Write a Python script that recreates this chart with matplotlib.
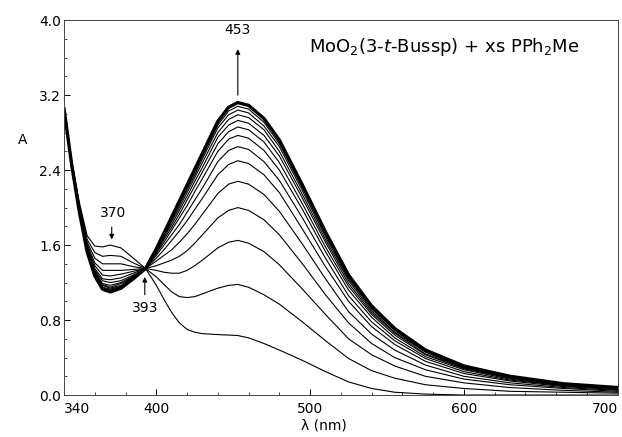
import matplotlib
matplotlib.use("Agg")
import matplotlib.pyplot as plt

# wavelengths (nm) at which the spectra were read
wavelength = [340, 345, 350, 355, 360, 365, 370, 377, 385, 393, 400, 405, 410, 415, 420, 425, 430,
              440, 447, 453, 460, 470, 480, 495, 510, 525, 540, 555, 575, 600, 630, 665, 700]

# absorbance of each scan, first (lowest at 453 nm) to last
spectra = [
    [3.05, 2.50, 2.05, 1.70, 1.59, 1.58, 1.60, 1.57, 1.46, 1.35, 1.17, 1.02, 0.88, 0.77, 0.70, 0.67, 0.655,
     0.645, 0.64, 0.635, 0.61, 0.55, 0.48, 0.37, 0.25, 0.14, 0.07, 0.03, 0.01, 0.00, 0.00, 0.00, 0.00],
    [3.05, 2.49, 2.03, 1.66, 1.52, 1.48, 1.49, 1.48, 1.41, 1.35, 1.26, 1.18, 1.10, 1.05, 1.04, 1.05, 1.08,
     1.14, 1.17, 1.18, 1.15, 1.07, 0.97, 0.78, 0.58, 0.39, 0.26, 0.18, 0.11, 0.07, 0.04, 0.03, 0.02],
    [3.05, 2.48, 2.01, 1.63, 1.46, 1.40, 1.40, 1.40, 1.37, 1.35, 1.33, 1.31, 1.30, 1.30, 1.33, 1.38, 1.44,
     1.57, 1.63, 1.65, 1.62, 1.53, 1.39, 1.13, 0.86, 0.60, 0.43, 0.31, 0.20, 0.13, 0.08, 0.05, 0.03],
    [3.05, 2.47, 2.00, 1.61, 1.41, 1.33, 1.33, 1.33, 1.34, 1.35, 1.38, 1.41, 1.44, 1.48, 1.54, 1.62, 1.71,
     1.89, 1.97, 2.00, 1.97, 1.87, 1.71, 1.40, 1.07, 0.77, 0.55, 0.40, 0.27, 0.17, 0.11, 0.07, 0.04],
    [3.05, 2.47, 1.98, 1.59, 1.38, 1.28, 1.27, 1.29, 1.32, 1.35, 1.43, 1.49, 1.55, 1.63, 1.72, 1.82, 1.93,
     2.15, 2.25, 2.28, 2.25, 2.14, 1.96, 1.61, 1.24, 0.89, 0.65, 0.48, 0.32, 0.20, 0.13, 0.08, 0.05],
    [3.05, 2.46, 1.98, 1.57, 1.35, 1.24, 1.23, 1.25, 1.30, 1.35, 1.46, 1.55, 1.65, 1.75, 1.86, 1.98, 2.10,
     2.35, 2.46, 2.50, 2.47, 2.35, 2.16, 1.77, 1.37, 1.00, 0.73, 0.54, 0.36, 0.23, 0.15, 0.09, 0.06],
    [3.05, 2.46, 1.97, 1.56, 1.33, 1.22, 1.20, 1.22, 1.28, 1.35, 1.49, 1.60, 1.71, 1.82, 1.95, 2.08, 2.21,
     2.49, 2.61, 2.65, 2.62, 2.49, 2.29, 1.89, 1.46, 1.06, 0.78, 0.58, 0.39, 0.25, 0.16, 0.10, 0.06],
    [3.05, 2.46, 1.96, 1.55, 1.32, 1.19, 1.17, 1.20, 1.27, 1.35, 1.51, 1.63, 1.76, 1.89, 2.02, 2.17, 2.31,
     2.60, 2.73, 2.77, 2.74, 2.61, 2.40, 1.98, 1.53, 1.12, 0.83, 0.61, 0.41, 0.27, 0.17, 0.10, 0.07],
    [3.05, 2.46, 1.96, 1.55, 1.30, 1.18, 1.15, 1.19, 1.26, 1.35, 1.52, 1.66, 1.79, 1.93, 2.08, 2.23, 2.38,
     2.68, 2.81, 2.86, 2.83, 2.70, 2.48, 2.04, 1.58, 1.16, 0.86, 0.64, 0.43, 0.28, 0.18, 0.11, 0.07],
    [3.05, 2.45, 1.96, 1.54, 1.30, 1.17, 1.14, 1.17, 1.26, 1.35, 1.53, 1.68, 1.82, 1.97, 2.12, 2.28, 2.43,
     2.75, 2.88, 2.93, 2.90, 2.77, 2.55, 2.10, 1.63, 1.19, 0.88, 0.66, 0.44, 0.29, 0.18, 0.11, 0.07],
    [3.05, 2.45, 1.96, 1.54, 1.29, 1.15, 1.13, 1.16, 1.25, 1.35, 1.54, 1.69, 1.85, 2.00, 2.16, 2.32, 2.48,
     2.80, 2.94, 2.99, 2.96, 2.83, 2.60, 2.14, 1.66, 1.22, 0.90, 0.67, 0.46, 0.29, 0.19, 0.11, 0.08],
    [3.05, 2.45, 1.95, 1.54, 1.28, 1.14, 1.12, 1.15, 1.25, 1.35, 1.55, 1.71, 1.87, 2.03, 2.19, 2.35, 2.52,
     2.85, 2.99, 3.04, 3.01, 2.87, 2.65, 2.18, 1.69, 1.24, 0.92, 0.69, 0.46, 0.30, 0.19, 0.12, 0.08],
    [3.05, 2.45, 1.95, 1.53, 1.28, 1.14, 1.11, 1.15, 1.24, 1.35, 1.55, 1.72, 1.88, 2.05, 2.22, 2.38, 2.55,
     2.88, 3.03, 3.08, 3.05, 2.91, 2.68, 2.21, 1.72, 1.26, 0.94, 0.70, 0.47, 0.31, 0.20, 0.12, 0.08],
    [3.05, 2.45, 1.95, 1.53, 1.27, 1.13, 1.10, 1.14, 1.24, 1.35, 1.56, 1.73, 1.90, 2.07, 2.24, 2.41, 2.58,
     2.92, 3.07, 3.12, 3.09, 2.95, 2.72, 2.24, 1.74, 1.28, 0.95, 0.71, 0.48, 0.31, 0.20, 0.12, 0.08],
]

x_ticks = [340, 400, 500, 600, 700]
y_ticks = [0.0, 0.8, 1.6, 2.4, 3.2, 4.0]

fig = plt.figure(figsize=(6.22, 4.37), dpi=100)
ax = fig.add_axes([0.103, 0.096, 0.890, 0.858])

for i, a in enumerate(spectra):
    lw = 2.4 if i == len(spectra) - 1 else 0.8
    ax.plot(wavelength, a, color="black", lw=lw, solid_joinstyle="round")

ax.set_xlim(340, 700)
ax.set_ylim(0, 4.0)
ax.set_xticks(x_ticks)
ax.set_yticks(y_ticks)
ax.set_xticklabels([str(t) for t in x_ticks])
ax.set_yticklabels(["%.1f" % t for t in y_ticks])
ax.set_xticks(range(340, 701, 20), minor=True)
ax.set_yticks([i * 0.2 for i in range(21)], minor=True)
ax.tick_params(which="both", direction="in", labelsize=10)
ax.tick_params(which="major", length=4, width=0.7)
ax.tick_params(which="minor", length=2, width=0.5)
ax.tick_params(axis="x", pad=5)
ax.tick_params(axis="y", pad=2)
xl = ax.get_xticklabels()
xl[0].set_ha("left")
xl[-1].set_ha("right")
for s in ax.spines.values():
    s.set_linewidth(0.7)
    s.set_color("#444444")

ax.text(-0.075, 0.68, "A", transform=ax.transAxes, fontsize=10, ha="center", va="center")
fig.text(0.52, 0.027, "λ (nm)", fontsize=10, ha="center", va="center")

ax.text(0.686, 0.928, r"MoO$_2$(3-$t$-Bussp) + xs PPh$_2$Me", transform=ax.transAxes,
        fontsize=13, family="DejaVu Sans", ha="center", va="center")

# band labels
ax.annotate("", xy=(371, 1.63), xytext=(371, 1.82),
            arrowprops=dict(arrowstyle="-|>", color="black", lw=0.8, mutation_scale=7))
ax.text(372, 1.94, "370", fontsize=10, ha="center", va="center")
ax.annotate("", xy=(392.5, 1.29), xytext=(392.5, 1.04),
            arrowprops=dict(arrowstyle="-|>", color="black", lw=0.8, mutation_scale=7))
ax.text(393, 0.93, "393", fontsize=10, ha="center", va="center")
ax.annotate("", xy=(453, 3.72), xytext=(453, 3.17),
            arrowprops=dict(arrowstyle="-|>", color="black", lw=0.8, mutation_scale=7))
ax.text(453, 3.89, "453", fontsize=10, ha="center", va="center")

fig.savefig("out.png", dpi=100)
